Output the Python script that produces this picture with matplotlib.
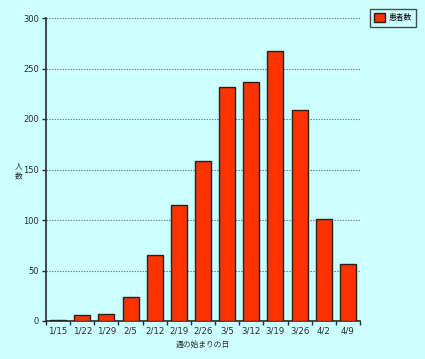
import matplotlib
matplotlib.use("Agg")
import matplotlib.pyplot as plt
from matplotlib.patches import Patch

plt.rcParams['font.family'] = ['DejaVu Sans', 'Noto Sans CJK JP']

weeks = ["1/15", "1/22", "1/29", "2/5", "2/12", "2/19", "2/26", "3/5", "3/12", "3/19", "3/26", "4/2", "4/9"]
patients = [1, 6, 7, 24, 65, 115, 158, 232, 237, 267, 209, 101, 56]
yticks = [0, 50, 100, 150, 200, 250, 300]

bg = "#CCFFFF"
txt = "#2a2a2a"
fig = plt.figure(figsize=(4.25, 3.59), dpi=100, facecolor=bg)
ax = fig.add_axes([46/425, 1-321/359, (360-46)/425, (321-18)/359])
ax.set_facecolor(bg)

x = list(range(len(weeks)))
ax.bar(x, patients, width=0.66, color="#FF3300", edgecolor="#222222", linewidth=1.0, zorder=3)

ax.set_xlim(-0.5, len(weeks) - 0.5)
ax.set_ylim(0, 300)
ax.set_yticks(yticks)
ax.set_yticklabels([str(v) for v in yticks], fontsize=6, color=txt)
ax.set_xticks(x)
ax.set_xticklabels(weeks, fontsize=6.2, color=txt)
ax.tick_params(axis='x', length=0, pad=4)
ax.set_xticks([i - 0.5 for i in range(len(weeks) + 1)], minor=True)
ax.tick_params(axis='x', which='minor', length=3, width=1, color=txt)
ax.tick_params(axis='y', length=3, width=1, color=txt, pad=2.2)

ax.yaxis.grid(True, linestyle=(0, (1.2, 1.2)), color="#777777", linewidth=0.8, zorder=0)
for s in ['top', 'right']:
    ax.spines[s].set_visible(False)
ax.spines['left'].set_color(txt)
ax.spines['bottom'].set_color(txt)
ax.spines['left'].set_linewidth(1.2)
ax.spines['bottom'].set_linewidth(1.2)

ax.set_xlabel("週の始まりの日", fontsize=5.6, color=txt, labelpad=3)
fig.text(18.5/425, 1-166/359, "人", fontsize=5.6, color=txt, ha='center', va='center')
fig.text(18.5/425, 1-176/359, "数", fontsize=5.6, color=txt, ha='center', va='center')

leg = fig.legend(handles=[Patch(facecolor="#FF3300", edgecolor="#222222", label="患者数")],
                 loc='upper right', bbox_to_anchor=(416/425, 1-9/359), fontsize=5.6,
                 frameon=True, fancybox=False, edgecolor="#222222", handlelength=1.3,
                 handleheight=1.3, borderpad=0.55, handletextpad=0.5, borderaxespad=0)
leg.get_frame().set_facecolor(bg)
leg.get_frame().set_linewidth(1.0)

fig.savefig("out.png", dpi=100, facecolor=bg)
